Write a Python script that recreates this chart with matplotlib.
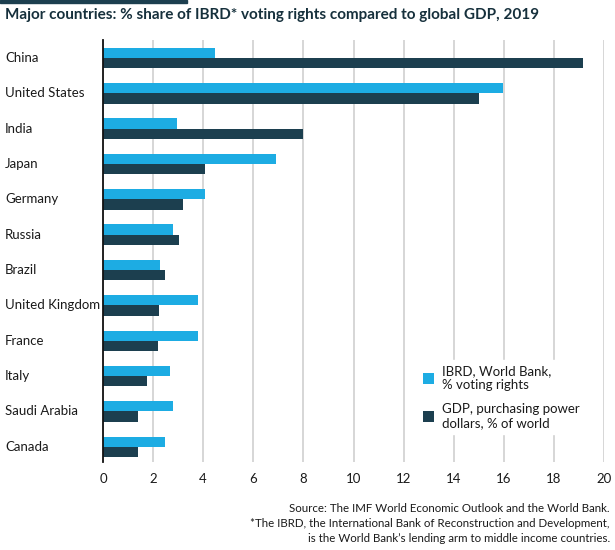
import matplotlib
matplotlib.use("Agg")
import matplotlib.pyplot as plt
import numpy as np
from matplotlib.patches import Rectangle

countries = ["China", "United States", "India", "Japan", "Germany", "Russia",
             "Brazil", "United Kingdom", "France", "Italy", "Saudi Arabia", "Canada"]
ibrd_votes = [4.47, 15.98, 2.95, 6.89, 4.06, 2.80, 2.26, 3.80, 3.80, 2.67, 2.81, 2.47]
gdp_ppp = [19.18, 15.02, 7.98, 4.06, 3.20, 3.05, 2.49, 2.23, 2.18, 1.75, 1.38, 1.38]
xticks = [0, 2, 4, 6, 8, 10, 12, 14, 16, 18, 20]

LIGHT = "#1DACE3"
DARK = "#1C3F4F"
TEXT = "#1a1a1a"
FONT = ["Lato", "DejaVu Sans"]
plt.rcParams["font.family"] = FONT

W, H = 615, 550
fig = plt.figure(figsize=(W / 100, H / 100), dpi=100)
ax = fig.add_axes([103 / W, 1 - 462 / H, (604 - 103) / W, (462 - 40) / H])

y = np.arange(len(countries))
bh = 0.29
ax.barh(y - bh / 2, ibrd_votes, height=bh, color=LIGHT, zorder=3,
        label="IBRD, World Bank,\n% voting rights")
ax.barh(y + bh / 2, gdp_ppp, height=bh, color=DARK, zorder=3,
        label="GDP, purchasing power\ndollars, % of world")

ax.set_xlim(0, 20)
ax.set_ylim(len(countries) - 1 + 0.43, -0.51)
ax.set_xticks(xticks)
ax.set_xticklabels([str(t) for t in xticks], fontsize=9.5, color=TEXT)
ax.set_yticks([])
ax.tick_params(axis="x", length=0, pad=8)
for s in ["top", "right", "bottom"]:
    ax.spines[s].set_visible(False)
ax.spines["left"].set_color("#111111")
ax.spines["left"].set_linewidth(1.3)
ax.spines["left"].set_zorder(5)
ax.grid(axis="x", color="#d0d0d0", linewidth=1.2, zorder=0)
ax.set_axisbelow(True)

# country labels, left-aligned at the figure edge
for i, c in enumerate(countries):
    ax.annotate(c, xy=(0, i), xycoords=("figure fraction", "data"),
                xytext=(5, 0), textcoords="offset pixels",
                va="center", ha="left", fontsize=9.5, color=TEXT)

leg = ax.legend(loc="upper left", bbox_to_anchor=(418 / W, 1 - 360 / H),
                bbox_transform=fig.transFigure,
                frameon=True, fontsize=9.5, handlelength=0.85, handleheight=0.85,
                handletextpad=0.55, labelspacing=0.9, borderpad=0.4, borderaxespad=0)
leg.get_frame().set_facecolor("white")
leg.get_frame().set_edgecolor("white")
leg.get_frame().set_alpha(1)
leg.get_frame().set_boxstyle("square", pad=0)
for t in leg.get_texts():
    t.set_color(TEXT)

fig.patches.append(Rectangle((0, 1 - 3 / H), 187 / W, 3 / H, transform=fig.transFigure,
                             color="#1C3F4F", zorder=10))
fig.text(5 / W, 1 - 15 / H,
         "Major countries: % share of IBRD* voting rights compared to global GDP, 2019",
         fontsize=11, fontweight="bold", color="#16303c", va="center", ha="left")

notes = ["Source: The IMF World Economic Outlook and the World Bank.",
         "*The IBRD, the International Bank of Reconstruction and Development,",
         "is the World Bank\u2019s lending arm to middle income countries."]
for k, n in enumerate(notes):
    fig.text(610 / W, 1 - (508 + 15.5 * k) / H, n, fontsize=8.3, color=TEXT,
             ha="right", va="center")

fig.savefig("out.png", dpi=100)
